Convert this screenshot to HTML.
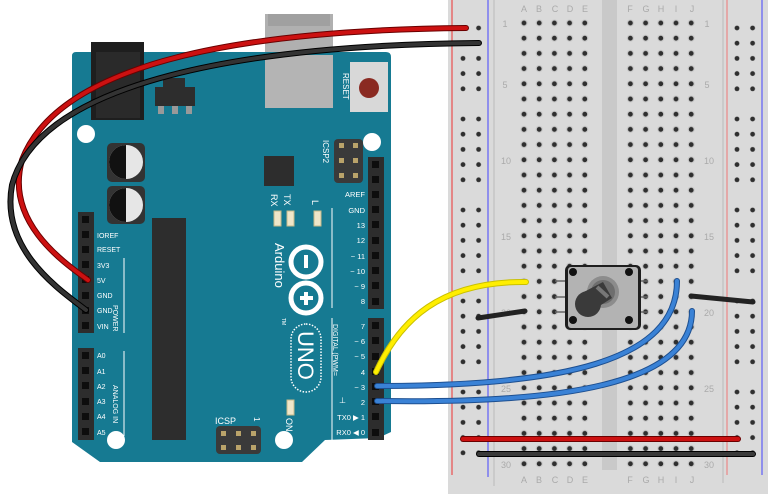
<!DOCTYPE html>
<html><head><meta charset="utf-8"><style>
html,body{margin:0;padding:0;background:#fff;width:768px;height:494px;overflow:hidden}
svg{display:block}
text{font-family:"Liberation Sans",sans-serif}
</style></head><body>
<svg width="768" height="494" viewBox="0 0 768 494" xmlns="http://www.w3.org/2000/svg">
<defs>
<pattern id="hm" x="516.4" y="15.4" width="15.2" height="15.2" patternUnits="userSpaceOnUse">
<circle cx="7.6" cy="7.6" r="3.6" fill="#c9c9c9"/><circle cx="7.6" cy="7.6" r="2.4" fill="#2f2f2f"/></pattern>
<pattern id="hr" x="0" y="20.4" width="15.6" height="91" patternUnits="userSpaceOnUse">
<g fill="#2f2f2f">
<circle cx="7.6" cy="7.6" r="2.4"/><circle cx="7.6" cy="22.8" r="2.4"/><circle cx="7.6" cy="38" r="2.4"/><circle cx="7.6" cy="53.2" r="2.4"/><circle cx="7.6" cy="68.4" r="2.4"/></g></pattern>
</defs>
<!-- breadboard -->
<rect x="448" y="0" width="320" height="494" fill="#dadada"/>
<rect x="602" y="0" width="15" height="470" fill="#c9c9c9"/>
<line x1="452" y1="0" x2="452" y2="475" stroke="#e33" stroke-width="1"/>
<line x1="488" y1="0" x2="488" y2="477" stroke="#44f" stroke-width="1"/>
<line x1="494" y1="0" x2="494" y2="486" stroke="#bbb" stroke-width="1"/>
<line x1="723" y1="0" x2="723" y2="483" stroke="#bbb" stroke-width="1"/>
<line x1="727" y1="0" x2="727" y2="475" stroke="#e77" stroke-width="1"/>
<line x1="762" y1="0" x2="762" y2="475" stroke="#44f" stroke-width="1"/>
<rect x="516.4" y="15.4" width="76" height="456" fill="url(#hm)"/>
<rect x="622.4" y="15.4" width="76" height="456" fill="url(#hm)"/>
<g transform="translate(455.4,0)"><rect x="0" y="20" width="31.2" height="445" fill="url(#hr)"/></g>
<g transform="translate(729.4,0)"><rect x="0" y="20" width="31.2" height="445" fill="url(#hr)"/></g>
<g font-size="9" fill="#aaa" text-anchor="middle">
<text x="524" y="12">A</text><text x="539" y="12">B</text><text x="555" y="12">C</text><text x="570" y="12">D</text><text x="585" y="12">E</text>
<text x="630" y="12">F</text><text x="646" y="12">G</text><text x="661" y="12">H</text><text x="676" y="12">I</text><text x="692" y="12">J</text>
<text x="524" y="483">A</text><text x="539" y="483">B</text><text x="555" y="483">C</text><text x="570" y="483">D</text><text x="585" y="483">E</text>
<text x="630" y="483">F</text><text x="646" y="483">G</text><text x="661" y="483">H</text><text x="676" y="483">I</text><text x="692" y="483">J</text>
<text x="505" y="27">1</text><text x="505" y="88">5</text><text x="506" y="164">10</text><text x="506" y="240">15</text><text x="506" y="316">20</text><text x="506" y="392">25</text><text x="506" y="468">30</text>
<text x="707" y="27">1</text><text x="707" y="88">5</text><text x="709" y="164">10</text><text x="709" y="240">15</text><text x="709" y="316">20</text><text x="709" y="392">25</text><text x="709" y="468">30</text>
</g>
<!-- arduino -->
<rect x="265" y="14" width="68" height="94" fill="#b0b0b0"/><rect x="268" y="14" width="62" height="12" fill="#a0a0a0"/>
<path d="M76,52 H386 Q391,52 391,57 V432 L378,438 L325,440 L302,462 H100 L72,442 V56 Q72,52 76,52 Z" fill="#167a92"/>
<rect x="265" y="55" width="68" height="53" fill="#b4b4b4"/>
<rect x="91" y="42" width="53" height="78" fill="#1e1e1e"/><rect x="96" y="52" width="44" height="66" fill="#2a2a2a"/>
<rect x="155" y="87" width="40" height="19" fill="#2d2d2d"/><rect x="163" y="78" width="22" height="9" fill="#2d2d2d"/>
<rect x="158" y="106" width="6" height="8" fill="#999"/><rect x="172" y="106" width="6" height="8" fill="#999"/><rect x="186" y="106" width="6" height="8" fill="#999"/>
<rect x="350" y="62" width="38" height="50" fill="#d8d8d8"/><circle cx="369" cy="88" r="10" fill="#8a2a22"/>
<text transform="translate(343,73) rotate(90)" font-size="8" fill="#fff">RESET</text>
<g fill="#fff"><circle cx="86" cy="134" r="9"/><circle cx="372" cy="142" r="9"/><circle cx="116" cy="440" r="9"/><circle cx="284" cy="440" r="9"/></g>
<rect x="107" y="143" width="38" height="39" rx="5" fill="#333"/><circle cx="126" cy="162" r="17" fill="#e6e6e6"/><path d="M126,145 A17,17 0 0 0 126,179 Z" fill="#111"/>
<rect x="107" y="186" width="38" height="38" rx="5" fill="#333"/><circle cx="126" cy="205" r="17" fill="#e6e6e6"/><path d="M126,188 A17,17 0 0 0 126,222 Z" fill="#111"/>
<rect x="264" y="156" width="30" height="30" fill="#2d2d2d"/>
<rect x="152" y="218" width="34" height="222" fill="#2d2d2d"/>
<rect x="334" y="139" width="29" height="44" rx="4" fill="#3a3a3a"/>
<g fill="#b9a36a"><rect x="339" y="143" width="5" height="5"/><rect x="353" y="143" width="5" height="5"/><rect x="339" y="158" width="5" height="5"/><rect x="353" y="158" width="5" height="5"/><rect x="339" y="173" width="5" height="5"/><rect x="353" y="173" width="5" height="5"/></g>
<text transform="translate(323,140) rotate(90)" font-size="8" fill="#fff">ICSP2</text>
<rect x="216" y="426" width="45" height="28" rx="4" fill="#3a3a3a"/>
<g fill="#b9a36a"><rect x="221" y="431" width="5" height="5"/><rect x="236" y="431" width="5" height="5"/><rect x="251" y="431" width="5" height="5"/><rect x="221" y="445" width="5" height="5"/><rect x="236" y="445" width="5" height="5"/><rect x="251" y="445" width="5" height="5"/></g>
<text x="215" y="424" font-size="9" fill="#fff">ICSP</text><text transform="translate(254,417) rotate(90)" font-size="8" fill="#fff">1</text>
<g fill="#efe6c9" stroke="#c7b989"><rect x="274" y="211" width="7" height="15"/><rect x="287" y="211" width="7" height="15"/><rect x="314" y="211" width="7" height="15"/><rect x="287" y="400" width="7" height="15"/></g>
<g font-size="9" fill="#fff"><text transform="translate(271,194) rotate(90)">RX</text><text transform="translate(284,194) rotate(90)">TX</text><text transform="translate(312,200) rotate(90)">L</text><text transform="translate(286,418) rotate(90)">ON</text></g>
<text transform="translate(275,243) rotate(90)" font-size="13" fill="#fff">Arduino</text>
<circle cx="306" cy="262" r="15" fill="none" stroke="#fff" stroke-width="5"/><circle cx="306" cy="298" r="15" fill="none" stroke="#fff" stroke-width="5"/>
<rect x="304" y="255" width="4" height="13" fill="#fff"/><rect x="304" y="292" width="4" height="13" fill="#fff"/><rect x="300" y="296" width="13" height="4" fill="#fff"/>
<text transform="translate(282,318) rotate(90)" font-size="5" fill="#fff">TM</text>
<rect x="291" y="324" width="30" height="68" rx="15" fill="none" stroke="#fff" stroke-width="1.5" stroke-dasharray="1.5,1.5"/>
<text transform="translate(298,331) rotate(90)" font-size="22" fill="#fff">UNO</text>
<line x1="332" y1="208" x2="332" y2="308" stroke="#fff" stroke-width="1"/>
<line x1="332" y1="318" x2="332" y2="440" stroke="#fff" stroke-width="1"/>
<text transform="translate(333,324) rotate(90)" font-size="7" fill="#fff">DIGITAL (PWM=</text>
<line x1="124" y1="258" x2="124" y2="333" stroke="#fff" stroke-width="1"/><line x1="124" y1="351" x2="124" y2="436" stroke="#fff" stroke-width="1"/>
<text transform="translate(113,305) rotate(90)" font-size="7" fill="#fff">POWER</text>
<text transform="translate(113,385) rotate(90)" font-size="7" fill="#fff">ANALOG IN</text>
<rect x="368" y="157" width="16" height="152" fill="#2d2d2d"/><rect x="368" y="318" width="16" height="122" fill="#2d2d2d"/>
<rect x="78" y="212" width="16" height="121" fill="#2d2d2d"/><rect x="78" y="348" width="16" height="92" fill="#2d2d2d"/>
<g fill="#0d0d0d">
<rect x="372" y="161" width="7" height="7"/><rect x="372" y="176" width="7" height="7"/><rect x="372" y="191" width="7" height="7"/><rect x="372" y="206" width="7" height="7"/><rect x="372" y="221" width="7" height="7"/><rect x="372" y="237" width="7" height="7"/><rect x="372" y="252" width="7" height="7"/><rect x="372" y="267" width="7" height="7"/><rect x="372" y="282" width="7" height="7"/><rect x="372" y="298" width="7" height="7"/>
<rect x="372" y="322" width="7" height="7"/><rect x="372" y="337" width="7" height="7"/><rect x="372" y="353" width="7" height="7"/><rect x="372" y="368" width="7" height="7"/><rect x="372" y="383" width="7" height="7"/><rect x="372" y="398" width="7" height="7"/><rect x="372" y="413" width="7" height="7"/><rect x="372" y="429" width="7" height="7"/>
<rect x="82" y="216" width="7" height="7"/><rect x="82" y="231" width="7" height="7"/><rect x="82" y="246" width="7" height="7"/><rect x="82" y="261" width="7" height="7"/><rect x="82" y="276" width="7" height="7"/><rect x="82" y="292" width="7" height="7"/><rect x="82" y="307" width="7" height="7"/><rect x="82" y="322" width="7" height="7"/>
<rect x="82" y="352" width="7" height="7"/><rect x="82" y="367" width="7" height="7"/><rect x="82" y="382" width="7" height="7"/><rect x="82" y="398" width="7" height="7"/><rect x="82" y="413" width="7" height="7"/><rect x="82" y="428" width="7" height="7"/>
</g>
<g font-size="7.5" fill="#fff" text-anchor="end">
<text x="365" y="197">AREF</text><text x="365" y="213">GND</text><text x="365" y="228">13</text><text x="365" y="243">12</text><text x="365" y="259">~ 11</text><text x="365" y="274">~ 10</text><text x="365" y="289">~ 9</text><text x="365" y="304">8</text>
<text x="365" y="329">7</text><text x="365" y="344">~ 6</text><text x="365" y="359">~ 5</text><text x="365" y="375">4</text><text x="365" y="390">~ 3</text><text x="365" y="405">2</text><text x="365" y="420">TX0 ▶ 1</text><text x="365" y="435">RX0 ◀ 0</text>
</g>
<text x="339" y="403" font-size="8" fill="#fff">⊥</text>
<g font-size="7" fill="#fff">
<text x="97" y="238">IOREF</text><text x="97" y="252">RESET</text><text x="97" y="268">3V3</text><text x="97" y="283">5V</text><text x="97" y="298">GND</text><text x="97" y="313">GND</text><text x="97" y="329">VIN</text>
<text x="97" y="358">A0</text><text x="97" y="374">A1</text><text x="97" y="389">A2</text><text x="97" y="404">A3</text><text x="97" y="419">A4</text><text x="97" y="435">A5</text>
</g>
<!-- potentiometer -->
<g stroke="#666" stroke-width="1.5"><line x1="555" y1="281" x2="566" y2="281"/><line x1="555" y1="297" x2="566" y2="297"/><line x1="555" y1="312" x2="566" y2="312"/><line x1="640" y1="281" x2="648" y2="281"/><line x1="640" y1="297" x2="648" y2="297"/><line x1="640" y1="312" x2="648" y2="312"/></g>
<rect x="565" y="265" width="76" height="65" rx="5" fill="#1e1e1e"/>
<rect x="568" y="267" width="70" height="61" rx="3" fill="#b3b3b3"/>
<circle cx="573" cy="272" r="4" fill="#111"/><circle cx="629" cy="272" r="4" fill="#111"/><circle cx="573" cy="320" r="4" fill="#111"/><circle cx="629" cy="320" r="4" fill="#111"/>
<circle cx="603" cy="292" r="16" fill="#8c8c8c"/><circle cx="603" cy="292" r="12" fill="#6e6e6e"/>
<path d="M580,294 L603,282 L612,298 L590,312 Z" fill="#3a3a3a"/>
<circle cx="588" cy="304" r="13" fill="#3a3a3a"/>
<line x1="597" y1="287" x2="608" y2="297" stroke="#777" stroke-width="4"/>
<!-- wires -->
<g fill="none" stroke-linecap="round">
<path d="M463,439 H738" stroke="#6a0000" stroke-width="6"/><path d="M463,439 H738" stroke="#cc1111" stroke-width="4"/>
<path d="M479,454 H753" stroke="#000" stroke-width="6"/><path d="M479,454 H753" stroke="#3a3a3a" stroke-width="4"/>
<path d="M478,318 L525,311" stroke="#222" stroke-width="5"/>
<path d="M691,296 L753,302" stroke="#222" stroke-width="5"/>
<path d="M466,28 C250,30 60,60 22,160 C5,220 60,260 88,280" stroke="#6a0000" stroke-width="6"/>
<path d="M466,28 C250,30 60,60 22,160 C5,220 60,260 88,280" stroke="#cc1111" stroke-width="4"/>
<path d="M479,43 C250,45 40,80 12,185 C0,250 60,290 86,310" stroke="#000" stroke-width="6"/>
<path d="M479,43 C250,45 40,80 12,185 C0,250 60,290 86,310" stroke="#333" stroke-width="4"/>
<path d="M376,372 C400,320 440,281 526,282" stroke="#c9c000" stroke-width="6"/>
<path d="M376,372 C400,320 440,281 526,282" stroke="#ffee00" stroke-width="4"/>
<path d="M377,386 C560,386 677,362 677,281" stroke="#1d4f90" stroke-width="6"/>
<path d="M377,386 C560,386 677,362 677,281" stroke="#3a82d6" stroke-width="4"/>
<path d="M377,401 C560,404 692,385 692,311" stroke="#1d4f90" stroke-width="6"/>
<path d="M377,401 C560,404 692,385 692,311" stroke="#3a82d6" stroke-width="4"/>
</g>
</svg>
</body></html>
